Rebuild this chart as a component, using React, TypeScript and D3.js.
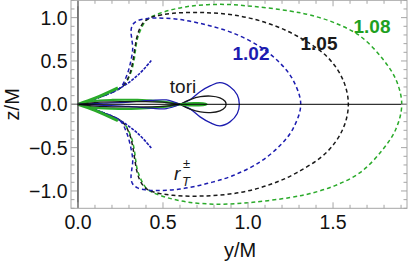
import * as d3 from "d3";

type Pt = [number, number];

// upper halves (z >= 0); the curves are mirror-symmetric about z = 0
const rtBlue: Pt[] = [[0, 0], [0.129, 0.084], [0.247, 0.188], [0.288, 0.338], [0.312, 0.511], [0.322, 0.649], [0.316, 0.76], [0.312, 0.85], [0.322, 0.92], [0.35, 0.965], [0.4, 0.988], [0.46, 0.996], [0.6, 0.978], [0.757, 0.915], [0.912, 0.822], [1.071, 0.664], [1.188, 0.476], [1.265, 0.28], [1.31, 0]];
const rtBlack: Pt[] = [[0, 0], [0.129, 0.084], [0.265, 0.211], [0.306, 0.361], [0.324, 0.511], [0.335, 0.649], [0.347, 0.776], [0.365, 0.88], [0.394, 0.961], [0.441, 1.01], [0.559, 1.05], [0.757, 1.057], [0.953, 1.018], [1.129, 0.926], [1.288, 0.788], [1.465, 0.549], [1.559, 0.28], [1.59, 0]];
const rtGreen: Pt[] = [[0, 0], [0.129, 0.084], [0.265, 0.211], [0.31, 0.361], [0.33, 0.511], [0.34, 0.649], [0.353, 0.78], [0.404, 0.972], [0.482, 1.05], [0.639, 1.126], [0.835, 1.153], [1.029, 1.13], [1.247, 1.076], [1.365, 1.03], [1.512, 0.938], [1.659, 0.788], [1.788, 0.534], [1.871, 0.28], [1.904, 0]];
const innerBlue: Pt[] = [[0, 0], [0.12, 0.075], [0.247, 0.185], [0.353, 0.338], [0.434, 0.511]];
const innerGreen: Pt[] = [[0, 0], [0.1, 0.07], [0.235, 0.19]];

const toriLeftGreen: Pt[] = [[0, 0], [0.08, 0.035], [0.2, 0.05], [0.35, 0.05], [0.5, 0.03], [0.6, 0]];
const toriLeftBlack: Pt[] = [[0, 0], [0.1, 0.02], [0.25, 0.03], [0.4, 0.03], [0.52, 0.02], [0.6, 0]];
const toriLeftBlue: Pt[] = [[0, 0], [0.15, 0.012], [0.3, 0.025], [0.43, 0.045], [0.52, 0.05], [0.6, 0]];
const toriRightGreen: Pt[] = [[0.6, 0], [0.65, 0.013], [0.71, 0.014], [0.75, 0.006], [0.757, 0]];
const toriRightBlack: Pt[] = [[0.6, 0], [0.66, 0.055], [0.72, 0.088], [0.78, 0.095], [0.835, 0.075], [0.865, 0.035], [0.871, 0]];
const toriRightBlue: Pt[] = [[0.6, 0], [0.659, 0.053], [0.718, 0.145], [0.78, 0.215], [0.835, 0.249], [0.894, 0.203], [0.937, 0.107], [0.949, 0]];

const xMajor = [0, 0.5, 1.0, 1.5];
const yMajor = [-1.0, -0.5, 0, 0.5, 1.0];

const BLUE = "#1c1cb0";
const BLACK = "#1a1a1a";
const GREEN = "#2aaa2a";
const FRAME = "#a6a6a6";

const W = 409;
const H = 263;

const x = d3.scaleLinear().domain([-0.041, 1.935]).range([71, 407]);
const y = d3.scaleLinear().domain([-1.2, 1.2]).range([208.3, 0.3]);

const line = d3
  .line<Pt>()
  .x((d) => x(d[0]))
  .y((d) => y(d[1]))
  .curve(d3.curveCatmullRom.alpha(0.5));

const mirror = (pts: Pt[]): Pt[] => pts.map((d) => [d[0], -d[1]] as Pt);
// closed outline through the upper half and back along the lower half
const loop = (pts: Pt[]): Pt[] => pts.concat(mirror(pts).reverse().slice(1));

const fmt = (v: number) => (v < 0 ? "\u2212" : "") + Math.abs(v).toFixed(1);

const App = () => {
  const xMinor = d3.range(0, 1.95, 0.1).filter((v) => !xMajor.some((m) => Math.abs(m - v) < 1e-6));
  const yMinor = d3.range(-1.2, 1.21, 0.1).filter((v) => !yMajor.some((m) => Math.abs(m - v) < 1e-6));
  const [x0, x1] = x.range();
  const [y0, y1] = y.range();

  const dashed = (pts: Pt[], color: string) => (
    <path d={line(loop(pts)) ?? ""} fill="none" stroke={color} strokeWidth={1.5} strokeDasharray="4,3" />
  );
  const both = (pts: Pt[], color: string, w: number, dash?: string) => (
    <g>
      <path d={line(pts) ?? ""} fill="none" stroke={color} strokeWidth={w} strokeDasharray={dash} />
      <path d={line(mirror(pts)) ?? ""} fill="none" stroke={color} strokeWidth={w} strokeDasharray={dash} />
    </g>
  );

  return (
    <svg width={W} height={H} style={{ position: "absolute", left: 0, top: 0, background: "#fff" }} fontFamily="'Liberation Sans', Arial, sans-serif">
      <defs>
        <clipPath id="plot">
          <rect x={x0} y={y1} width={x1 - x0} height={y0 - y1} />
        </clipPath>
      </defs>

      <g clipPath="url(#plot)">
        {dashed(rtGreen, GREEN)}
        {dashed(rtBlack, BLACK)}
        {dashed(rtBlue, BLUE)}
        {both(innerBlue, BLUE, 1.6, "3,1.2")}
        {both(innerGreen, GREEN, 3)}

        {both(toriLeftGreen, GREEN, 2.2)}
        {both(toriLeftBlue, BLUE, 1.2)}
        {both(toriLeftBlack, BLACK, 1.2)}
        <path d={line(loop(toriRightBlue)) ?? ""} fill="none" stroke={BLUE} strokeWidth={1.3} />
        <path d={line(loop(toriRightBlack)) ?? ""} fill="none" stroke={BLACK} strokeWidth={1.3} />
        <path d={line(loop(toriRightGreen)) ?? ""} fill="none" stroke={GREEN} strokeWidth={2} />

        <line x1={x0} x2={x1} y1={y(0)} y2={y(0)} stroke="#000" strokeWidth={1} />
        <line x1={x(0)} x2={x(0)} y1={y0} y2={y1} stroke="#333" strokeWidth={1.3} />
      </g>

      {/* frame and ticks */}
      <rect x={x0} y={y1} width={x1 - x0} height={y0 - y1} fill="none" stroke={FRAME} strokeWidth={1} />
      {xMajor.map((v) => (
        <g key={"xM" + v} stroke={FRAME}>
          <line x1={x(v)} x2={x(v)} y1={y0} y2={y0 - 6} />
          <line x1={x(v)} x2={x(v)} y1={y1} y2={y1 + 6} />
        </g>
      ))}
      {xMinor.map((v) => (
        <g key={"xm" + v} stroke={FRAME}>
          <line x1={x(v)} x2={x(v)} y1={y0} y2={y0 - 3.5} />
          <line x1={x(v)} x2={x(v)} y1={y1} y2={y1 + 3.5} />
        </g>
      ))}
      {yMajor.map((v) => (
        <g key={"yM" + v} stroke={FRAME}>
          <line x1={x0} x2={x0 + 6} y1={y(v)} y2={y(v)} />
          <line x1={x1} x2={x1 - 6} y1={y(v)} y2={y(v)} />
        </g>
      ))}
      {yMinor.map((v) => (
        <g key={"ym" + v} stroke={FRAME}>
          <line x1={x0} x2={x0 + 3.5} y1={y(v)} y2={y(v)} />
          <line x1={x1} x2={x1 - 3.5} y1={y(v)} y2={y(v)} />
        </g>
      ))}

      {xMajor.map((v) => (
        <text key={"xl" + v} x={x(v)} y={229} textAnchor="middle" fontSize={19.5} fill="#111">
          {fmt(v)}
        </text>
      ))}
      {yMajor.map((v) => (
        <text key={"yl" + v} x={67.5} y={y(v)} dy="0.36em" textAnchor="end" fontSize={19.5} fill="#111">
          {fmt(v)}
        </text>
      ))}

      <text x={240} y={256.5} textAnchor="middle" fontSize={20} fill="#111">y/M</text>
      <text transform={`translate(18.5,${y(0)}) rotate(-90)`} textAnchor="middle" fontSize={20} fill="#111">z/M</text>

      <text x={251} y={60} textAnchor="middle" fontSize={19} fontWeight="bold" fill={BLUE}>1.02</text>
      <text x={319} y={50} textAnchor="middle" fontSize={19} fontWeight="bold" fill={BLACK}>1.05</text>
      <text x={372} y={33} textAnchor="middle" fontSize={19} fontWeight="bold" fill="#1fa01f">1.08</text>
      <text x={183} y={93} textAnchor="middle" fontSize={19} fill={BLACK}>tori</text>
      <text x={174} y={180} fontSize={19} fontStyle="italic" fill={BLACK}>r</text>
      <text x={182} y={186} fontSize={13} fontStyle="italic" fill={BLACK}>T</text>
      <text x={183} y={168} fontSize={13} fill={BLACK}>±</text>
    </svg>
  );
};

export default App;
